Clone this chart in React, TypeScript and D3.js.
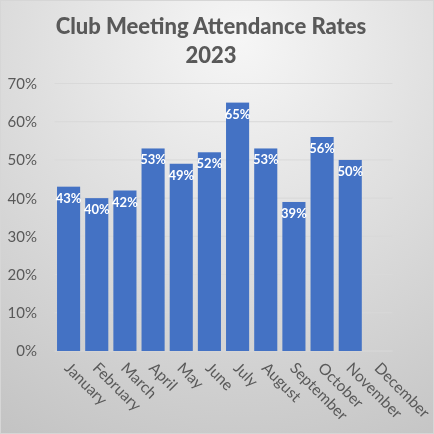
import React from 'react';
import * as d3 from 'd3';

const months = [
  'January', 'February', 'March', 'April', 'May', 'June',
  'July', 'August', 'September', 'October', 'November', 'December',
];
// December has no value yet
const attendance: (number | null)[] = [0.43, 0.4, 0.42, 0.53, 0.49, 0.52, 0.65, 0.53, 0.39, 0.56, 0.5, null];
const yTicks = [0, 0.1, 0.2, 0.3, 0.4, 0.5, 0.6, 0.7];
const titleLines = ['Club Meeting Attendance Rates', '2023'];

const W = 434;
const H = 434;
const margin = { top: 83.5, right: 41.5, bottom: 83, left: 54.5 };
const FONT = 'Lato, "Open Sans", sans-serif';

export default function App() {
  const ref = React.useRef<SVGSVGElement>(null);

  React.useEffect(() => {
    const svg = d3.select(ref.current);
    svg.selectAll('*').remove();

    const x = d3
      .scaleBand<string>()
      .domain(months)
      .range([margin.left, W - margin.right])
      .paddingInner(0.18)
      .paddingOuter(0.09);
    const y = d3.scaleLinear([0, 0.7], [H - margin.bottom, margin.top]);
    const pct = d3.format('.0%');

    // background
    const defs = svg.append('defs');
    const grad = defs
      .append('radialGradient')
      .attr('id', 'bg')
      .attr('gradientUnits', 'userSpaceOnUse')
      .attr('cx', 240)
      .attr('cy', 40)
      .attr('r', 460);
    grad.append('stop').attr('offset', '0%').attr('stop-color', '#f6f6f6');
    grad.append('stop').attr('offset', '100%').attr('stop-color', '#c3c3c3');
    svg
      .append('rect')
      .attr('x', 0.5)
      .attr('y', 0.5)
      .attr('width', W - 1)
      .attr('height', H - 1)
      .attr('fill', 'url(#bg)')
      .attr('stroke', '#d6d6d6');

    // title
    svg
      .append('g')
      .selectAll('text')
      .data(titleLines)
      .join('text')
      .attr('x', 211)
      .attr('y', (_, i) => 34 + i * 29)
      .attr('text-anchor', 'middle')
      .attr('font-family', FONT)
      .attr('font-weight', 900)
      .attr('font-size', 22)
      .attr('fill', '#595959')
      .text((d) => d);

    // gridlines + y labels
    const yAxis = svg.append('g');
    yAxis
      .selectAll('line')
      .data(yTicks)
      .join('line')
      .attr('x1', margin.left)
      .attr('x2', W - margin.right)
      .attr('y1', (d) => y(d))
      .attr('y2', (d) => y(d))
      .attr('stroke', '#d9d9d9')
      .attr('stroke-width', 1);
    yAxis
      .selectAll('text')
      .data(yTicks)
      .join('text')
      .attr('x', 37)
      .attr('y', (d) => y(d))
      .attr('dy', '0.36em')
      .attr('text-anchor', 'end')
      .attr('font-family', FONT)
      .attr('font-size', 15)
      .attr('fill', '#595959')
      .text((d) => pct(d));

    // bars
    const data = months.map((m, i) => ({ month: m, value: attendance[i] }));
    const withValue = data.filter((d) => d.value !== null) as { month: string; value: number }[];
    svg
      .append('g')
      .selectAll('rect')
      .data(withValue)
      .join('rect')
      .attr('x', (d) => x(d.month)!)
      .attr('width', x.bandwidth())
      .attr('y', (d) => y(d.value))
      .attr('height', (d) => y(0) - y(d.value))
      .attr('fill', '#4472c4');

    // value labels (inside end)
    svg
      .append('g')
      .selectAll('text')
      .data(withValue)
      .join('text')
      .attr('x', (d) => x(d.month)! + x.bandwidth() / 2)
      .attr('y', (d) => y(d.value) + 16)
      .attr('text-anchor', 'middle')
      .attr('font-family', FONT)
      .attr('font-weight', 'bold')
      .attr('font-size', 13)
      .attr('fill', '#ffffff')
      .text((d) => pct(d.value));

    // x labels rotated 45deg
    svg
      .append('g')
      .selectAll('text')
      .data(months)
      .join('text')
      .attr('transform', (d) => `translate(${x(d)! + x.bandwidth() / 2 - 5}, ${H - margin.bottom + 18}) rotate(45)`)
      .attr('text-anchor', 'start')
      .attr('font-family', FONT)
      .attr('font-size', 15.5)
      .attr('fill', '#595959')
      .text((d) => d);
  }, []);

  return (
    <div style={{ position: 'fixed', left: 0, top: 0 }}>
      <svg ref={ref} width={W} height={H} style={{ display: 'block' }} />
    </div>
  );
}
